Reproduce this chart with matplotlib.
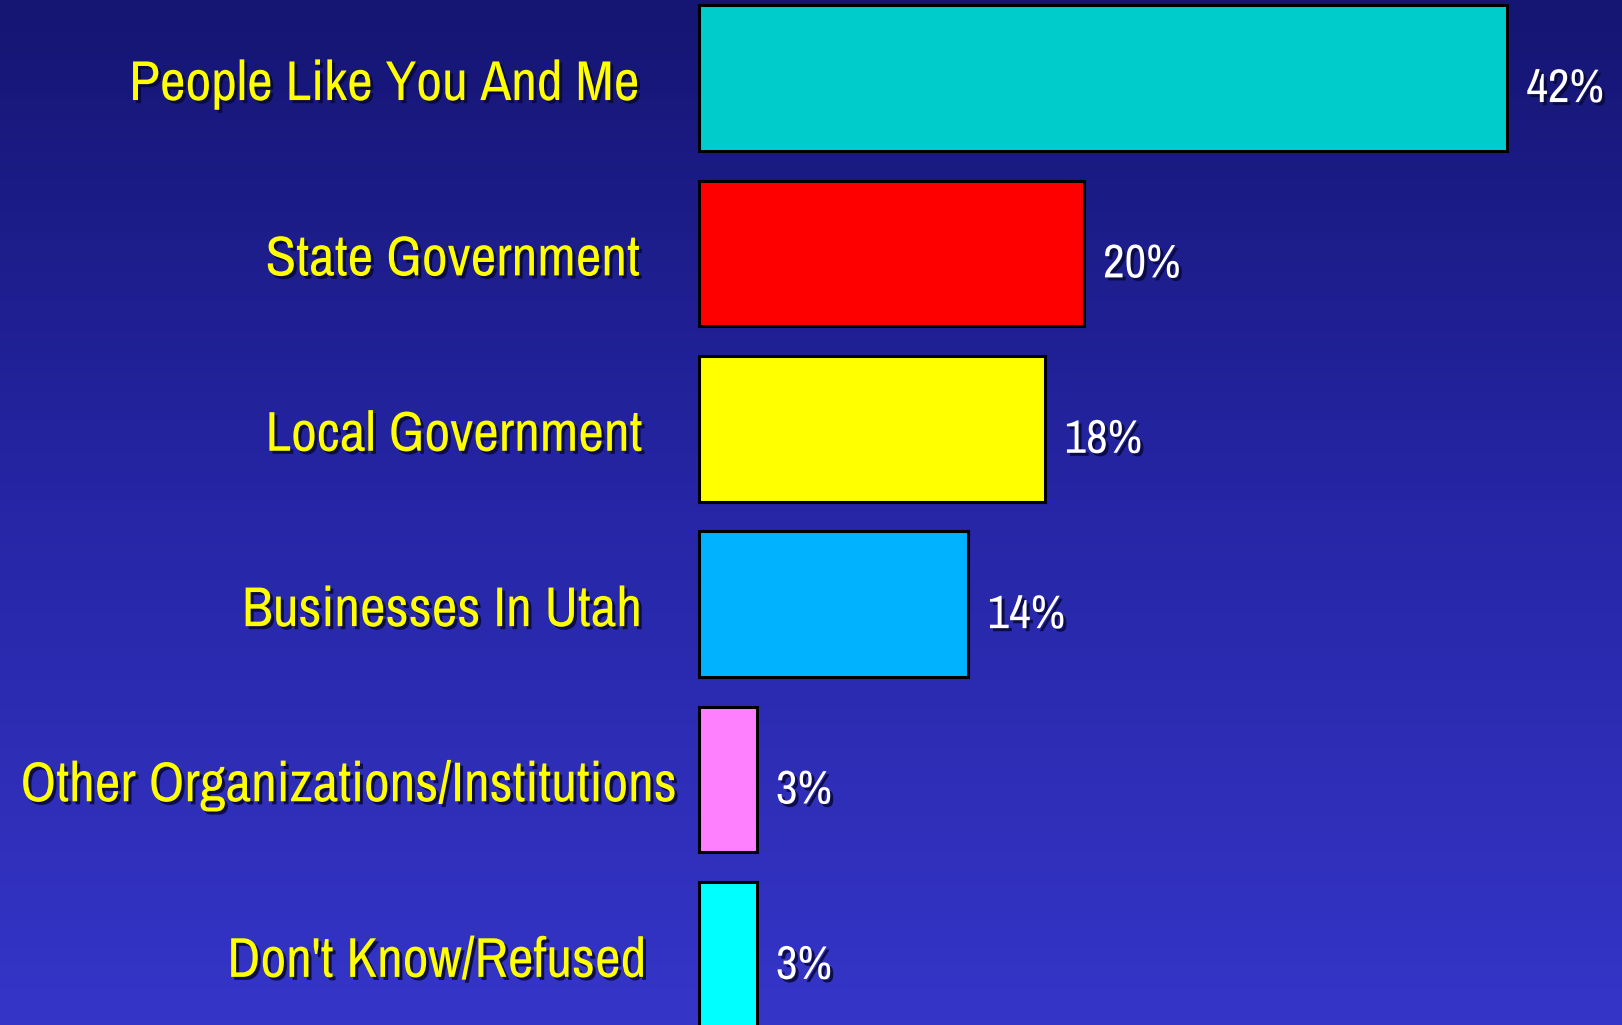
import numpy as np
import matplotlib
matplotlib.use("Agg")
import matplotlib.pyplot as plt
import matplotlib.patheffects as pe
from matplotlib.colors import LinearSegmentedColormap

# Chart data
categories = [
    "People Like You And Me",
    "State Government",
    "Local Government",
    "Businesses In Utah",
    "Other Organizations/Institutions",
    "Don't Know/Refused",
]
values = [42, 20, 18, 14, 3, 3]
value_labels = ["42%", "20%", "18%", "14%", "3%", "3%"]
bar_colors = ["#00CCCC", "#FF0000", "#FFFF00", "#00B2FF", "#FF80FF", "#00FFFF"]

# label right edges (in data units, left of the bars)
label_right = [-3.1, -3.1, -2.95, -2.95, -1.15, -2.75]

plt.rcParams["font.family"] = ["Liberation Sans Narrow", "Arial Narrow", "Archivo Narrow",
                               "Roboto Condensed", "PT Sans Narrow",
                               "IBM Plex Sans Condensed", "DejaVu Sans"]

fig = plt.figure(figsize=(16.22, 10.25), dpi=100)

# Gradient background
bg = fig.add_axes([0, 0, 1, 1])
bg_cmap = LinearSegmentedColormap.from_list("bg", ["#151573", "#2626a6", "#3535c8"])
bg.imshow(np.linspace(0, 1, 256).reshape(-1, 1), aspect="auto", cmap=bg_cmap,
          extent=[0, 1, 0, 1])
bg.set_axis_off()

ax = fig.add_axes([0, 0, 1, 1])
ax.patch.set_alpha(0)
ax.set_axis_off()

y = np.arange(len(categories))
ax.barh(y, values, height=0.83, color=bar_colors, edgecolor="black",
        linewidth=2.2, zorder=2, clip_on=True)

ax.set_xlim(-36.33, 47.97)
ax.set_ylim(5.40, -0.445)

shadow = [pe.SimplePatchShadow(offset=(2.2, -2.2), shadow_rgbFace="#08083a", alpha=0.85),
          pe.Normal()]

for i, cat in enumerate(categories):
    ax.text(label_right[i], i + 0.04, cat, ha="right", va="center",
            fontsize=40.5, color="#FFFF00", path_effects=shadow)
    ax.text(values[i] + 1.0, i + 0.06, value_labels[i], ha="left", va="center",
            fontsize=34, color="white", path_effects=shadow)

fig.savefig("out.png", dpi=100)
